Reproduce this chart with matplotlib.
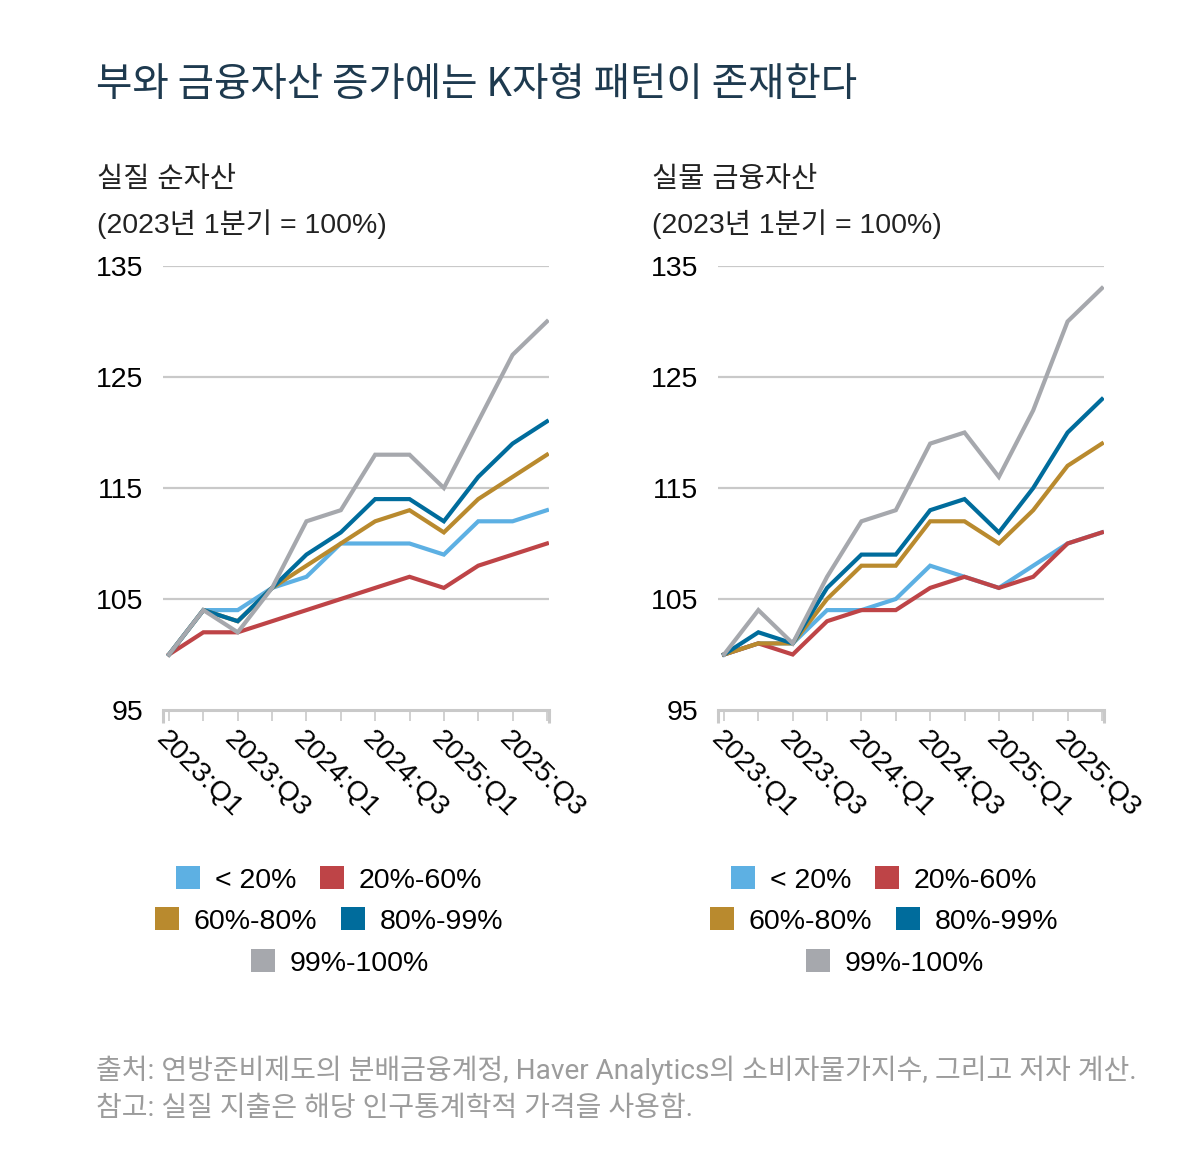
import numpy as np
import matplotlib.pyplot as plt
from matplotlib.patches import Patch

# ------------------- DATOS -------------------
QUARTERS = ["2023:Q1", "2023:Q2", "2023:Q3", "2023:Q4",
            "2024:Q1", "2024:Q2", "2024:Q3", "2024:Q4",
            "2025:Q1", "2025:Q2", "2025:Q3", "2025:Q4"]
GROUPS = ["< 20%", "20%-60%", "60%-80%", "80%-99%", "99%-100%"]

# 실질 순자산
net_lt20 = [100, 104, 104, 106, 107, 110, 110, 110, 109, 112, 112, 113]
net_20_60 = [100, 102, 102, 103, 104, 105, 106, 107, 106, 108, 109, 110]
net_60_80 = [100, 104, 103, 106, 108, 110, 112, 113, 111, 114, 116, 118]
net_80_99 = [100, 104, 103, 106, 109, 111, 114, 114, 112, 116, 119, 121]
net_99_100 = [100, 104, 102, 106, 112, 113, 118, 118, 115, 121, 127, 130]

# 실물 금융자산
fin_lt20 = [100, 101, 101, 104, 104, 105, 108, 107, 106, 108, 110, 111]
fin_20_60 = [100, 101, 100, 103, 104, 104, 106, 107, 106, 107, 110, 111]
fin_60_80 = [100, 101, 101, 105, 108, 108, 112, 112, 110, 113, 117, 119]
fin_80_99 = [100, 102, 101, 106, 109, 109, 113, 114, 111, 115, 120, 123]
fin_99_100 = [100, 104, 101, 107, 112, 113, 119, 120, 116, 122, 130, 133]

COLORS = ["#5DB0E3", "#BE4447", "#B98A2E", "#006C9C", "#A6A8AD"]

SANS = ["Liberation Sans", "Noto Sans CJK KR", "DejaVu Sans"]
FOOT = ["Roboto", "Noto Sans CJK KR", "DejaVu Sans"]
GRID = "#C9C9C9"
FS = 20.5

W, H = 1200, 1176


def fx(px):
    return px / W


def fy(py):
    return 1 - py / H


def draw_panel(fig, left_px, title, series):
    ax = fig.add_axes([fx(left_px), fy(710), (549 - 163) / W, (710 - 266) / H])
    x = np.arange(len(QUARTERS))
    for vals, col in zip(series, COLORS):
        ax.plot(x, vals, color=col, lw=3.0, solid_joinstyle="miter", zorder=3)

    ax.set_xlim(-0.175, 11.06)
    ax.set_ylim(95, 135)
    ax.set_yticks([95, 105, 115, 125, 135])
    ax.set_yticklabels(["95", "105", "115", "125", "135"], family=SANS, fontsize=FS)
    for yv in [105, 115, 125, 135]:
        ax.axhline(yv, color=GRID, lw=1.6, zorder=1)
    ax.tick_params(axis="y", length=0, pad=14)

    ax.set_xticks(x)
    ax.set_xticklabels([q if i % 2 == 0 else "" for i, q in enumerate(QUARTERS)],
                       rotation=-45, ha="left", va="top", rotation_mode="anchor",
                       family=SANS, fontsize=FS)
    ax.set_xticks([-0.175, 11.06], minor=True)
    ax.tick_params(axis="x", which="major", length=8, width=1.2, color=GRID, pad=4)
    ax.tick_params(axis="x", which="minor", length=9, width=2.2, color=GRID)

    for s in ["top", "right", "left"]:
        ax.spines[s].set_visible(False)
    ax.spines["bottom"].set_color(GRID)
    ax.spines["bottom"].set_linewidth(2.2)

    fig.text(fx(left_px - 66), fy(180), title, family=SANS, fontsize=FS,
             va="center", ha="left", color="#222222")
    fig.text(fx(left_px - 66), fy(224), "(2023년 1분기 = 100%)", family=SANS,
             fontsize=FS, va="center", ha="left", color="#222222")

    # leyenda en tres filas centradas
    rows = [([0, 1], 880, -27), ([2, 3], 921, -27), ([4], 963, -16)]
    for idx, ypx, off in rows:
        handles = [Patch(facecolor=COLORS[i], edgecolor="none") for i in idx]
        labels = [GROUPS[i] for i in idx]
        fig.legend(handles, labels, loc="center",
                   bbox_to_anchor=(fx(left_px + 193 + off), fy(ypx)),
                   ncol=len(idx), frameon=False, handlelength=0.85,
                   handleheight=0.85, handletextpad=0.5, columnspacing=0.85,
                   borderpad=0, borderaxespad=0,
                   prop={"family": SANS, "size": FS})
    return ax


def main():
    fig = plt.figure(figsize=(12, 11.76), dpi=100)

    fig.text(fx(96), fy(85), "부와 금융자산 증가에는 K자형 패턴이 존재한다",
             family=["Noto Sans CJK KR", "DejaVu Sans"], fontsize=28.5,
             color="#1E3A4F", va="center", ha="left")

    draw_panel(fig, 163, "실질 순자산",
               [net_lt20, net_20_60, net_60_80, net_80_99, net_99_100])
    draw_panel(fig, 718, "실물 금융자산",
               [fin_lt20, fin_20_60, fin_60_80, fin_80_99, fin_99_100])

    fig.text(fx(96), fy(1070),
             "출처: 연방준비제도의 분배금융계정, Haver Analytics의 소비자물가지수, 그리고 저자 계산.",
             family=FOOT, fontsize=20.2, color="#9C9C9C", va="center", ha="left")
    fig.text(fx(96), fy(1108), "참고: 실질 지출은 해당 인구통계학적 가격을 사용함.",
             family=FOOT, fontsize=20.2, color="#9C9C9C", va="center", ha="left")

    fig.savefig("out.png", dpi=100, facecolor="white")
    plt.close(fig)


if __name__ == "__main__":
    main()
